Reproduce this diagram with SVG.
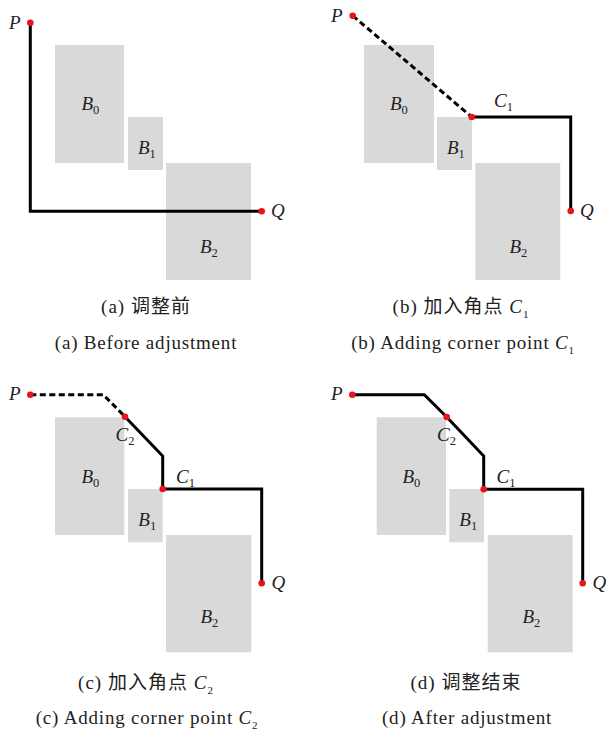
<svg xmlns="http://www.w3.org/2000/svg" width="606" height="730" viewBox="0 0 606 730">
<style>
.blk{fill:#d9d9d9}
.lbl{font-family:"Liberation Serif","DejaVu Serif",serif;font-size:19px;font-style:italic;fill:#222}
.sub{font-style:normal;font-size:12.5px}
.dot{fill:#e8141b}
.path{fill:none;stroke:#000;stroke-width:3;stroke-linejoin:miter}
.dash{fill:none;stroke:#000;stroke-width:3;stroke-dasharray:6 3.5}
.capcn{font-family:"Liberation Serif","Noto Sans CJK SC",serif;font-size:19px;fill:#222;letter-spacing:1px}
.capen{font-family:"Liberation Serif",serif;font-size:19px;fill:#222;letter-spacing:0.8px}
.ci{font-style:italic}
.cs{font-size:11px}
</style>
<rect width="606" height="730" fill="#fff"/>

<!-- Panel (a) -->
<g id="a-B0"><rect class="blk" x="55" y="45" width="69" height="118"/><text class="lbl" x="81.5" y="110">B<tspan class="sub" dy="4">0</tspan></text></g>
<g id="a-B1"><rect class="blk" x="128" y="117" width="35" height="53"/><text class="lbl" x="138" y="154">B<tspan class="sub" dy="4">1</tspan></text></g>
<g id="a-B2"><rect class="blk" x="166" y="163" width="85" height="117"/><text class="lbl" x="200" y="253">B<tspan class="sub" dy="4">2</tspan></text></g>
<g id="a-connectors"><polyline class="path" points="30.3,23 30.3,211.3 261.7,211.3"/></g>
<g id="a-P"><circle class="dot" cx="30.3" cy="22.7" r="3.3"/><text class="lbl" x="9" y="29">P</text></g>
<g id="a-Q"><circle class="dot" cx="261.7" cy="211.3" r="3.3"/><text class="lbl" x="271" y="217">Q</text></g>

<!-- Panel (b) -->
<g id="b-B0"><rect class="blk" x="364" y="45" width="70" height="118"/><text class="lbl" x="390" y="110">B<tspan class="sub" dy="4">0</tspan></text></g>
<g id="b-B1"><rect class="blk" x="437" y="117" width="35" height="53"/><text class="lbl" x="447" y="154">B<tspan class="sub" dy="4">1</tspan></text></g>
<g id="b-B2"><rect class="blk" x="475.3" y="163" width="85" height="117"/><text class="lbl" x="509.5" y="253">B<tspan class="sub" dy="4">2</tspan></text></g>
<g id="b-connectors">
<line class="dash" x1="352.7" y1="15.7" x2="471.7" y2="117"/>
<polyline class="path" points="471.7,117 570.7,117 570.7,211"/>
</g>
<g id="b-P"><circle class="dot" cx="352.7" cy="15.7" r="3.3"/><text class="lbl" x="331" y="22">P</text></g>
<g id="b-C1"><circle class="dot" cx="471.7" cy="117" r="3.3"/><text class="lbl" x="494" y="107">C<tspan class="sub" dy="4">1</tspan></text></g>
<g id="b-Q"><circle class="dot" cx="570.7" cy="211" r="3.3"/><text class="lbl" x="580" y="217">Q</text></g>

<!-- Panel (c) -->
<g id="c-B0"><rect class="blk" x="55" y="417.3" width="69.3" height="117.7"/><text class="lbl" x="81.5" y="482.7">B<tspan class="sub" dy="4">0</tspan></text></g>
<g id="c-B1"><rect class="blk" x="128" y="489" width="34.7" height="53.3"/><text class="lbl" x="138.3" y="526">B<tspan class="sub" dy="4">1</tspan></text></g>
<g id="c-B2"><rect class="blk" x="166" y="535" width="85.3" height="117.3"/><text class="lbl" x="200.5" y="623">B<tspan class="sub" dy="4">2</tspan></text></g>
<g id="c-connectors">
<polyline class="dash" points="30.3,394.7 103.3,394.7 125,416.7"/>
<polyline class="path" points="125,416.7 162.7,456 162.7,489 261.7,489 261.7,583.3"/>
</g>
<g id="c-P"><circle class="dot" cx="30.3" cy="394.7" r="3.3"/><text class="lbl" x="9" y="400">P</text></g>
<g id="c-C2"><circle class="dot" cx="125" cy="416.7" r="3.3"/><text class="lbl" x="115.5" y="441">C<tspan class="sub" dy="4">2</tspan></text></g>
<g id="c-C1"><circle class="dot" cx="162.7" cy="489" r="3.3"/><text class="lbl" x="176" y="483.3">C<tspan class="sub" dy="4">1</tspan></text></g>
<g id="c-Q"><circle class="dot" cx="261.7" cy="583.3" r="3.3"/><text class="lbl" x="271.5" y="589">Q</text></g>

<!-- Panel (d) -->
<g id="d-B0"><rect class="blk" x="376.7" y="417.3" width="69.3" height="117.7"/><text class="lbl" x="402.5" y="482.7">B<tspan class="sub" dy="4">0</tspan></text></g>
<g id="d-B1"><rect class="blk" x="449.3" y="489" width="34.7" height="53.3"/><text class="lbl" x="459.3" y="526">B<tspan class="sub" dy="4">1</tspan></text></g>
<g id="d-B2"><rect class="blk" x="487.7" y="535" width="85" height="117.3"/><text class="lbl" x="522.5" y="623">B<tspan class="sub" dy="4">2</tspan></text></g>
<g id="d-connectors">
<polyline class="path" points="352.3,394.7 424.3,394.7 446.7,417 483.7,456 483.7,489.3 582.7,489.3 582.7,583.3"/>
</g>
<g id="d-P"><circle class="dot" cx="352.3" cy="394.7" r="3.3"/><text class="lbl" x="331" y="400">P</text></g>
<g id="d-C2"><circle class="dot" cx="446.7" cy="417" r="3.3"/><text class="lbl" x="437" y="441">C<tspan class="sub" dy="4">2</tspan></text></g>
<g id="d-C1"><circle class="dot" cx="483.7" cy="489.3" r="3.3"/><text class="lbl" x="496.5" y="483.3">C<tspan class="sub" dy="4">1</tspan></text></g>
<g id="d-Q"><circle class="dot" cx="582.7" cy="583.3" r="3.3"/><text class="lbl" x="592.5" y="589">Q</text></g>

<!-- Captions -->
<g id="captions">
<text class="capcn" x="146" y="313" text-anchor="middle">(a) 调整前</text>
<text class="capen" x="146" y="349" text-anchor="middle">(a)  Before adjustment</text>
<text class="capcn" x="461" y="313" text-anchor="middle">(b) 加入角点 <tspan class="ci">C</tspan><tspan class="cs" dy="5">1</tspan></text>
<text class="capen" x="463" y="349" text-anchor="middle">(b)  Adding corner point <tspan class="ci">C</tspan><tspan class="cs" dy="5">1</tspan></text>
<text class="capcn" x="146" y="689" text-anchor="middle">(c) 加入角点 <tspan class="ci">C</tspan><tspan class="cs" dy="5">2</tspan></text>
<text class="capen" x="147" y="724" text-anchor="middle">(c)  Adding corner point <tspan class="ci">C</tspan><tspan class="cs" dy="5">2</tspan></text>
<text class="capcn" x="466" y="689" text-anchor="middle">(d) 调整结束</text>
<text class="capen" x="467" y="724" text-anchor="middle">(d)  After adjustment</text>
</g>
</svg>
